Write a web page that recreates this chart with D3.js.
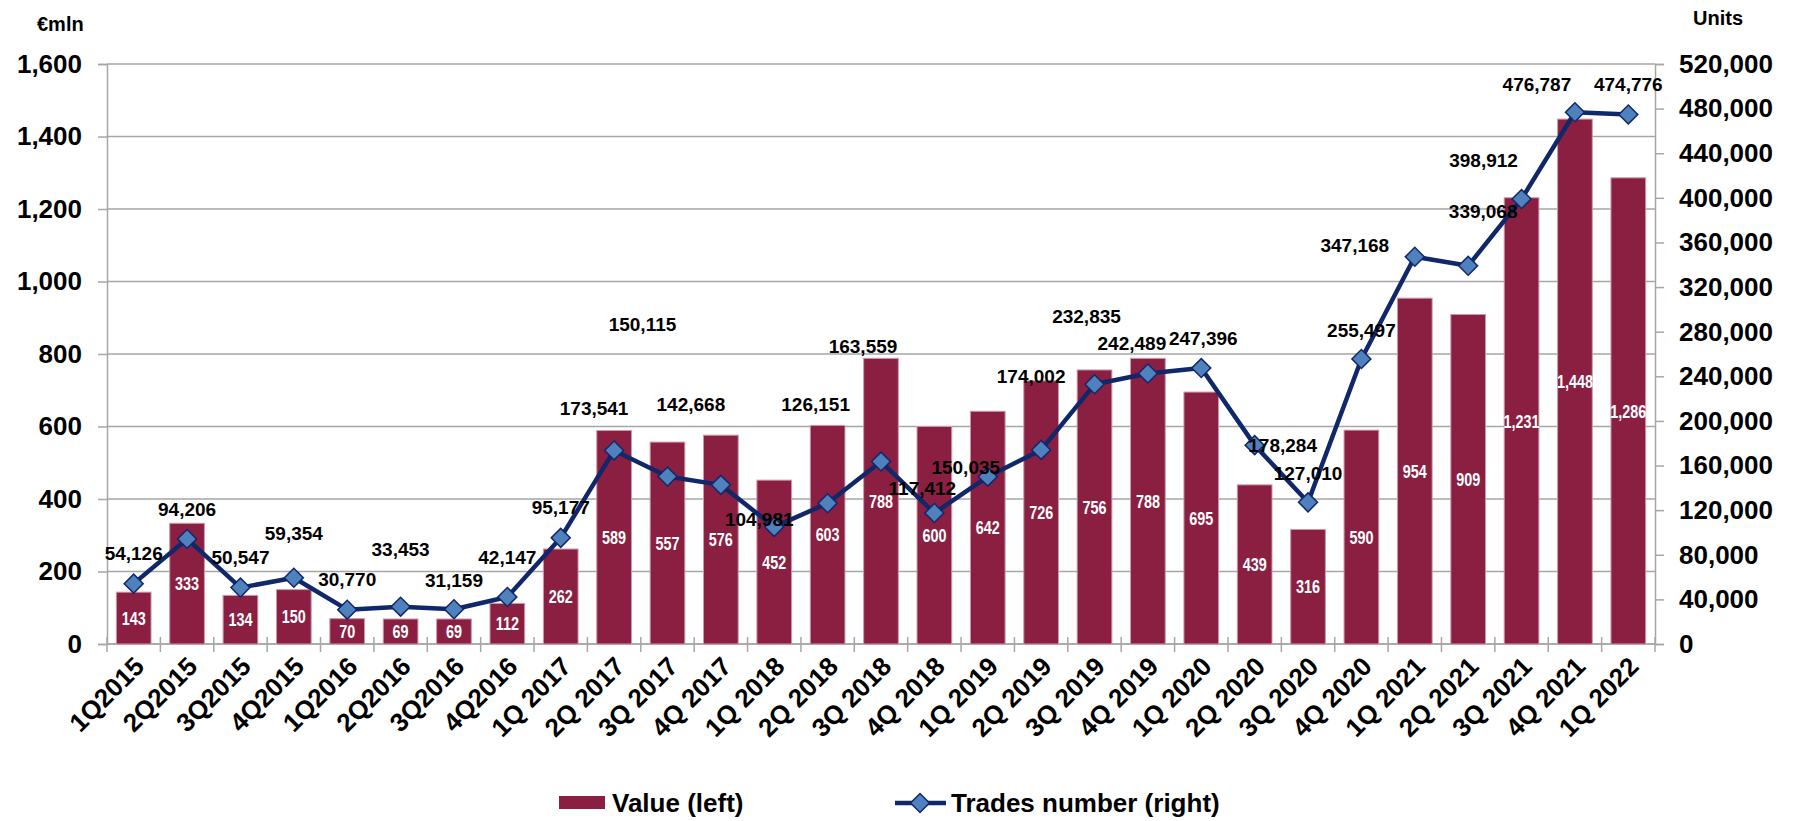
<!DOCTYPE html>
<html>
<head>
<meta charset="utf-8">
<script src="https://cdn.jsdelivr.net/npm/d3@7"></script>
<style>
body { margin:0; background:#fff; }
svg { display:block; font-family:"Liberation Sans", Arial, sans-serif; }
</style>
</head>
<body>
<div id="chart"></div>
<script>
// data
var quarters = ['1Q2015','2Q2015','3Q2015','4Q2015','1Q2016','2Q2016','3Q2016','4Q2016',
  '1Q 2017','2Q 2017','3Q 2017','4Q 2017','1Q 2018','2Q 2018','3Q 2018','4Q 2018',
  '1Q 2019','2Q 2019','3Q 2019','4Q 2019','1Q 2020','2Q 2020','3Q 2020','4Q 2020',
  '1Q 2021','2Q 2021','3Q 2021','4Q 2021','1Q 2022'];
var valueMln = [143,333,134,150,70,69,69,112,262,589,557,576,452,603,788,600,642,726,756,788,695,439,316,590,954,909,1231,1448,1286];
var trades = [54126,94206,50547,59354,30770,33453,31159,42147,95177,173541,150115,142668,104981,126151,163559,117412,
  150035,174002,232835,242489,247396,178284,127010,255497,347168,339068,398912,476787,474776];
var leftTicks = [0,200,400,600,800,1000,1200,1400,1600];
var rightTicks = [0,40000,80000,120000,160000,200000,240000,280000,320000,360000,400000,440000,480000,520000];

// label nudges (the source labels were placed by hand)
var labelShift = [[0,-30],[0,-29],[0,-30],[0,-44],[0,-30],[0,-57],[0,-29],[0,-39],[0,-30],
  [-20,-42],[-25,-152],[-30,-80],[-15,-7],[-12,-99],[-18,-115],[-12,-25],[-22,-9],[-10,-73],[-8,-68],
  [-16,-30],[2,-30],[28,0],[0,-29],[0,-29],[-60,-11],[15,-54],[-38,-39],[-38,-28],[0,-30]];

var width = 1800, height = 821;
var barColor = '#8b1f41', lineColor = '#10286a', markColor = '#4f81bd', gridColor = '#a6a6a6';

var svg = d3.select('#chart').append('svg')
  .attr('width', width)
  .attr('height', height);

var x = d3.scaleBand().domain(quarters).range([107, 1655]);
var yL = d3.scaleLinear().domain([0, 1600]).range([644, 64]);
var yR = d3.scaleLinear().domain([0, 520000]).range([644, 64]);
var fmt = d3.format(',');
var cx = function (i) { return x(quarters[i]) + x.bandwidth() / 2; };

// gridlines
svg.append('g').selectAll('line')
  .data(leftTicks)
  .join('line')
  .attr('x1', 107).attr('x2', 1655)
  .attr('y1', d => yL(d)).attr('y2', d => yL(d))
  .attr('stroke', gridColor).attr('stroke-width', 1.5);

// axes
var left = svg.append('g').attr('transform', 'translate(107,0)')
  .call(d3.axisLeft(yL).tickValues(leftTicks).tickSize(9).tickPadding(16).tickFormat(fmt));
var right = svg.append('g').attr('transform', 'translate(1655,0)')
  .call(d3.axisRight(yR).tickValues(rightTicks).tickSize(9).tickPadding(15).tickFormat(fmt));
[left, right].forEach(function (g) {
  g.select('.domain').attr('stroke', gridColor).attr('stroke-width', 1.5);
  g.selectAll('.tick line').attr('stroke', gridColor).attr('stroke-width', 1.5);
  g.selectAll('.tick text').attr('font-size', 26).attr('font-weight', 'bold')
    .attr('fill', '#000').attr('font-family', '"Liberation Sans", Arial, sans-serif');
});

var xAxis = svg.append('g');
xAxis.append('line')
  .attr('x1', 107).attr('x2', 1655).attr('y1', 644).attr('y2', 644)
  .attr('stroke', gridColor).attr('stroke-width', 1.5);
xAxis.selectAll('line.tk')
  .data(quarters.map(q => x(q)).concat([x.range()[1]]))
  .join('line')
  .attr('class', 'tk')
  .attr('x1', d => d).attr('x2', d => d)
  .attr('y1', 637).attr('y2', 652)
  .attr('stroke', gridColor).attr('stroke-width', 1.5);
xAxis.selectAll('text')
  .data(quarters)
  .join('text')
  .attr('transform', (d, i) => `translate(${cx(i) + 12},${668})rotate(-45)`)
  .attr('text-anchor', 'end')
  .attr('font-size', 26).attr('font-weight', 'bold')
  .text(d => d);

// bars
var bw = x.bandwidth() * 0.65;
var bars = svg.append('g');
bars.selectAll('rect')
  .data(valueMln)
  .join('rect')
  .attr('x', (d, i) => x(quarters[i]) + (x.bandwidth() - bw) / 2)
  .attr('y', d => yL(d))
  .attr('width', bw)
  .attr('height', d => yL(0) - yL(d))
  .attr('fill', barColor)
  .attr('stroke', '#c99aab').attr('stroke-width', 1);

bars.selectAll('text')
  .data(valueMln)
  .join('text')
  .attr('transform', (d, i) => `translate(${cx(i)},${(yL(d) + yL(0)) / 2})scale(0.8,1)`)
  .attr('text-anchor', 'middle')
  .attr('dominant-baseline', 'central')
  .attr('font-size', 18).attr('font-weight', 'bold')
  .attr('fill', '#fff')
  .text(d => fmt(d));

// trades line
var line = d3.line()
  .x((d, i) => cx(i))
  .y(d => yR(d));

svg.append('path')
  .datum(trades)
  .attr('d', line)
  .attr('fill', 'none')
  .attr('stroke', lineColor)
  .attr('stroke-width', 4.5)
  .attr('stroke-linejoin', 'round');

var diamond = d3.symbol().type(d3.symbolSquare).size(180);
svg.append('g').selectAll('path')
  .data(trades)
  .join('path')
  .attr('d', diamond)
  .attr('transform', (d, i) => `translate(${cx(i)},${yR(d)})rotate(45)`)
  .attr('fill', markColor)
  .attr('stroke', lineColor).attr('stroke-width', 1.5);

svg.append('g').selectAll('text')
  .data(trades)
  .join('text')
  .attr('x', (d, i) => cx(i) + labelShift[i][0])
  .attr('y', (d, i) => yR(d) + labelShift[i][1])
  .attr('text-anchor', 'middle')
  .attr('dominant-baseline', 'central')
  .attr('font-size', 19).attr('font-weight', 'bold')
  .attr('fill', '#000')
  .text(d => fmt(d));

// unit labels
svg.append('text').attr('x', 37).attr('y', 31)
  .attr('font-size', 20).attr('font-weight', 'bold').text('€mln');
svg.append('text').attr('x', 1693).attr('y', 25)
  .attr('font-size', 20).attr('font-weight', 'bold').text('Units');

// legend
var legend = svg.append('g');
legend.append('rect')
  .attr('x', 559).attr('y', 796).attr('width', 46).attr('height', 13)
  .attr('fill', barColor);
legend.append('text').attr('x', 612).attr('y', 812)
  .attr('font-size', 26).attr('font-weight', 'bold').text('Value (left)');
legend.append('line')
  .attr('x1', 895).attr('x2', 946).attr('y1', 803).attr('y2', 803)
  .attr('stroke', lineColor).attr('stroke-width', 4.5);
legend.append('path')
  .attr('d', diamond)
  .attr('transform', 'translate(920,803)rotate(45)')
  .attr('fill', markColor).attr('stroke', lineColor).attr('stroke-width', 1.5);
legend.append('text').attr('x', 951).attr('y', 812)
  .attr('font-size', 26).attr('font-weight', 'bold').text('Trades number (right)');
</script>
</body>
</html>
